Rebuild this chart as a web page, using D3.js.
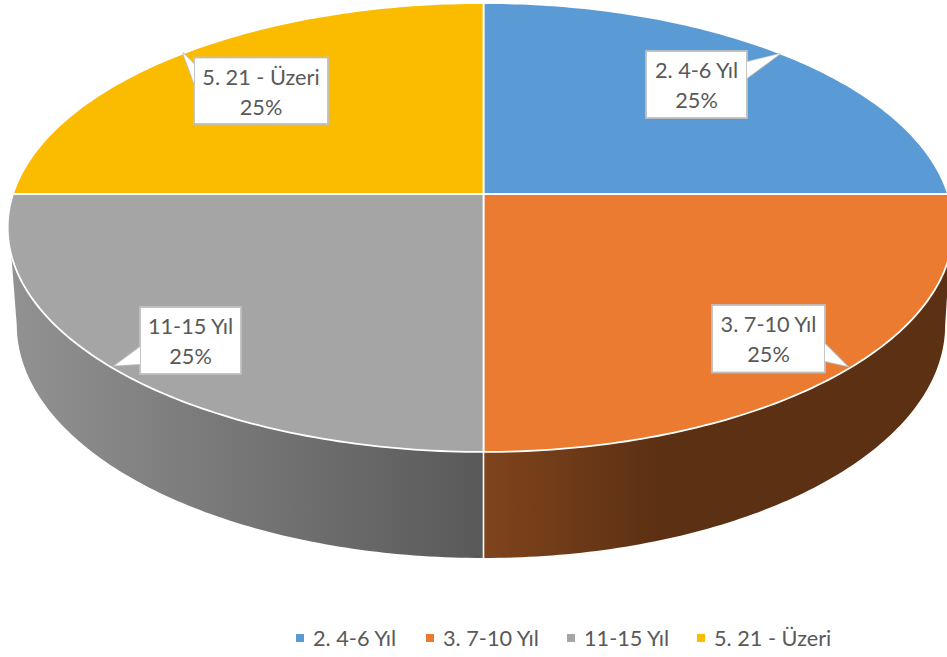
<!DOCTYPE html>
<html>
<head>
<meta charset="utf-8">
<script src="https://cdn.jsdelivr.net/npm/d3@7"></script>
<style>
    html, body { margin: 0; padding: 0; background: #fff; }
    svg { display: block; }
    text { font-family: Lato, "Open Sans", sans-serif; fill: #595959; }
</style>
</head>
<body>
<div id="chart"></div>
<script>
// Data
const categories = ["2. 4-6 Yıl", "3. 7-10 Yıl", "11-15 Yıl", "5. 21 - Üzeri"];
const shares = [25, 25, 25, 25];
const percentLabels = ["25%", "25%", "25%", "25%"];
const sliceColors = ["#5b9bd5", "#ea7b31", "#a5a5a5", "#fbbc00"];

const width = 947, height = 657;
const rad = d => d * Math.PI / 180;

const svg = d3.select("#chart").append("svg")
    .attr("width", width)
    .attr("height", height);

// Perspective: k makes the near half of the disc bigger than the far half
const k = -0.149;
const cx = 483.5;
const topPlane = {y0: 194, a: 219.5, bLeft: 470.5, bRight: 464.5};
const bottomPlane = {y0: 290.3, a: 227.8, bLeft: 461.5, bRight: 456.5};

function project(plane, angle) {
    let u = Math.sin(angle), v = -Math.cos(angle);
    let w = 1 + k * v;
    let b = u < 0 ? plane.bLeft : plane.bRight;
    return [cx + b * u / w, plane.y0 + plane.a * v / w];
}

function rim(plane, from, to) {
    return d3.range(0, 101).map(i => project(plane, from + (to - from) * i / 100));
}

const line = d3.line();
const color = d3.scaleOrdinal().domain(categories).range(sliceColors);
const pie = d3.pie().sort(null).value(d => d)(shares);

// Side walls, only the front half of the disc shows them
const walls = [
    {slice: 1, topFrom: rad(105.5), bottomFrom: rad(98.6), topTo: rad(180), bottomTo: rad(180),
        x1: 483, x2: 660, stops: ["#7f441c", "#5c3013"]},
    {slice: 2, topFrom: rad(180), bottomFrom: rad(180), topTo: rad(254.5), bottomTo: rad(261.4),
        x1: 483, x2: 10, stops: ["#595959", "#929292"]}
];

const defs = svg.append("defs");
walls.forEach((w, i) => {
    let grad = defs.append("linearGradient")
        .attr("id", "wall" + i)
        .attr("gradientUnits", "userSpaceOnUse")
        .attr("x1", w.x1).attr("x2", w.x2)
        .attr("y1", 0).attr("y2", 0);
    grad.append("stop").attr("offset", 0).attr("stop-color", w.stops[0]);
    grad.append("stop").attr("offset", 1).attr("stop-color", w.stops[1]);
});

svg.selectAll(".wall")
    .data(walls)
    .enter().append("path")
    .attr("class", "wall")
    .attr("fill", (d, i) => `url(#wall${i})`)
    .attr("d", d => line(rim(topPlane, d.topFrom, d.topTo)
        .concat(rim(bottomPlane, d.bottomTo, d.bottomFrom))) + "Z");

// Seam between the two walls
svg.append("path")
    .attr("stroke", "#fff")
    .attr("stroke-width", 1.6)
    .attr("fill", "none")
    .attr("d", line([project(topPlane, Math.PI), project(bottomPlane, Math.PI)]));

// Top face
svg.selectAll(".slice")
    .data(pie)
    .enter().append("path")
    .attr("class", "slice")
    .attr("fill", (d, i) => color(categories[i]))
    .attr("stroke", "#fff")
    .attr("stroke-width", 1.8)
    .attr("stroke-linejoin", "round")
    .attr("d", d => line([[cx, topPlane.y0]].concat(rim(topPlane, d.startAngle, d.endAngle))) + "Z");

// Callouts
const callouts = [
    {box: [646, 51, 101, 67], tip: [779.5, 54], base: [[747, 62], [747, 78]]},
    {box: [712, 305, 113, 67.5], tip: [847, 366], base: [[825, 344], [825, 361]]},
    {box: [140, 307, 101, 67], tip: [115, 365.5], base: [[140, 347], [140, 364]]},
    {box: [194, 57.5, 134, 66.5], tip: [183, 53], base: [[194, 83], [194, 64]]}
];

const callout = svg.selectAll(".callout")
    .data(callouts)
    .enter().append("g")
    .attr("class", "callout");

callout.append("path")
    .attr("fill", "#fff")
    .attr("stroke", "#bfbfbf")
    .attr("stroke-width", 1.8)
    .attr("d", d => line([d.base[0], d.tip, d.base[1]]));

callout.append("rect")
    .attr("x", d => d.box[0])
    .attr("y", d => d.box[1])
    .attr("width", d => d.box[2])
    .attr("height", d => d.box[3])
    .attr("fill", "#fff")
    .attr("stroke", "#bfbfbf")
    .attr("stroke-width", 1.8);

callout.append("path")
    .attr("fill", "#fff")
    .attr("d", d => line([d.base[0], d.tip, d.base[1]]) + "Z");

callout.append("text")
    .attr("x", d => d.box[0] + d.box[2] / 2)
    .attr("y", d => d.box[1] + 27)
    .attr("text-anchor", "middle")
    .attr("font-size", 21.7)
    .text((d, i) => categories[i]);

callout.append("text")
    .attr("x", d => d.box[0] + d.box[2] / 2)
    .attr("y", d => d.box[1] + 57)
    .attr("text-anchor", "middle")
    .attr("font-size", 21.7)
    .text((d, i) => percentLabels[i]);

// Legend
const legendX = [296, 426, 567, 697];
const legend = svg.selectAll(".legend-item")
    .data(categories)
    .enter().append("g")
    .attr("class", "legend-item")
    .attr("transform", (d, i) => `translate(${legendX[i]}, 634)`);

legend.append("rect")
    .attr("width", 8)
    .attr("height", 8)
    .attr("fill", d => color(d));

legend.append("text")
    .attr("x", 17)
    .attr("y", 12)
    .attr("font-size", 21.7)
    .text(d => d);
</script>
</body>
</html>
